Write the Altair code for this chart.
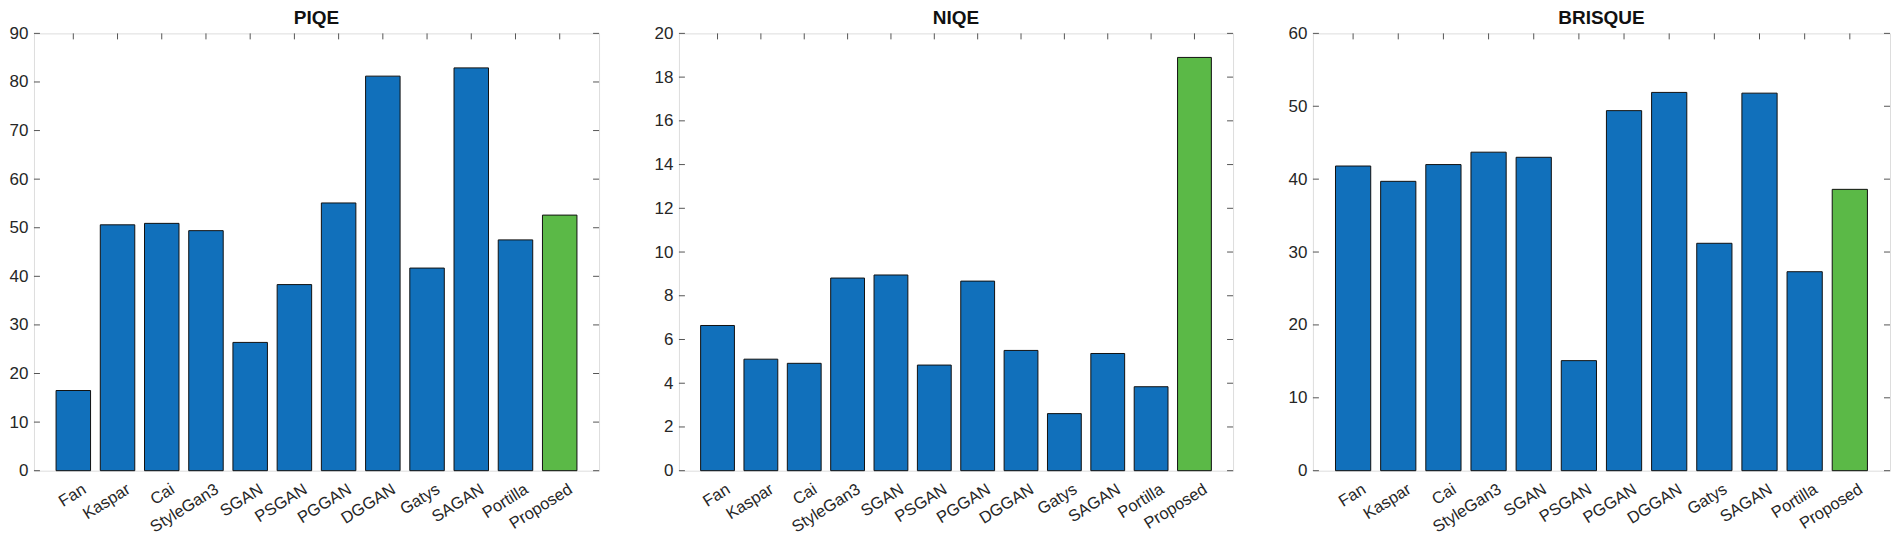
import altair as alt
import pandas as pd

methods = ["Fan", "Kaspar", "Cai", "StyleGan3", "SGAN", "PSGAN", "PGGAN",
           "DGGAN", "Gatys", "SAGAN", "Portilla", "Proposed"]

piqe = [16.5, 50.6, 50.9, 49.4, 26.4, 38.3, 55.1, 81.2, 41.7, 82.9, 47.5, 52.6]
niqe = [6.64, 5.10, 4.91, 8.81, 8.95, 4.83, 8.67, 5.50, 2.61, 5.36, 3.84, 18.9]
brisque = [41.8, 39.7, 42.0, 43.7, 43.0, 15.1, 49.4, 51.9, 31.2, 51.8, 27.3, 38.6]

piqe_ticks = [0, 10, 20, 30, 40, 50, 60, 70, 80, 90]
niqe_ticks = [0, 2, 4, 6, 8, 10, 12, 14, 16, 18, 20]
brisque_ticks = [0, 10, 20, 30, 40, 50, 60]

BLUE = "#1170bb"
GREEN = "#5bb947"
AXIS = "#555555"
TEXT = "#262626"
FONT = "Liberation Sans"
TICK = 6


def panel(title, values, ticks, width, height, title_offset):
    df = pd.DataFrame({"Method": methods, "Value": values})
    tdf = pd.DataFrame({"t": ticks})
    xscale = alt.Scale(paddingInner=0.22, paddingOuter=0.5)
    yscale = alt.Scale(domain=[ticks[0], ticks[-1]], nice=False, zero=True)

    bars = alt.Chart(df).mark_bar(stroke="#111111", strokeWidth=1).encode(
        x=alt.X("Method:N", sort=methods, scale=xscale,
                axis=alt.Axis(title=None, labelAngle=-32, labelAlign="right",
                              labelBaseline="top", ticks=False, domain=False,
                              labelFontSize=16.5, labelPadding=10, labelOffset=7,
                              labelColor=TEXT, labelFont=FONT, labelOverlap=False)),
        y=alt.Y("Value:Q", scale=yscale,
                axis=alt.Axis(title=None, values=ticks, ticks=False, domain=False,
                              grid=False, labelPadding=6, labelFontSize=17,
                              labelColor=TEXT, labelFont=FONT)),
        color=alt.condition(alt.datum.Method == "Proposed",
                            alt.value(GREEN), alt.value(BLUE)),
    )

    top_ticks = alt.Chart(df).mark_rule(color=AXIS, strokeWidth=1).encode(
        x=alt.X("Method:N", sort=methods, scale=xscale, axis=None),
        y=alt.value(0),
        y2=alt.value(TICK),
    )

    left_ticks = alt.Chart(tdf).mark_rule(color=AXIS, strokeWidth=1).encode(
        y=alt.Y("t:Q", scale=yscale, axis=None),
        x=alt.value(0),
        x2=alt.value(TICK),
    )

    right_ticks = alt.Chart(tdf).mark_rule(color=AXIS, strokeWidth=1).encode(
        y=alt.Y("t:Q", scale=yscale, axis=None),
        x=alt.value(width - TICK),
        x2=alt.value(width),
    )

    return alt.layer(left_ticks, right_ticks, top_ticks, bars).resolve_axis(
        x="independent", y="independent"
    ).properties(
        width=width, height=height,
        title=alt.TitleParams(title, fontSize=19, fontWeight="bold", color="#111111",
                              font=FONT, offset=title_offset, anchor="middle",
                              frame="group"),
    )


chart = alt.hconcat(
    panel("PIQE", piqe, piqe_ticks, 566, 438, -4),
    panel("NIQE", niqe, niqe_ticks, 555, 438, -4),
    panel("BRISQUE", brisque, brisque_ticks, 578, 438, -4),
    spacing=53,
).properties(
    padding={"left": 0, "top": 0, "right": 0, "bottom": 0},
    background="white",
).configure_view(
    stroke=AXIS, strokeWidth=1
).configure(font=FONT)

chart.save("out.html", embed_options={"renderer": "svg", "actions": False})
